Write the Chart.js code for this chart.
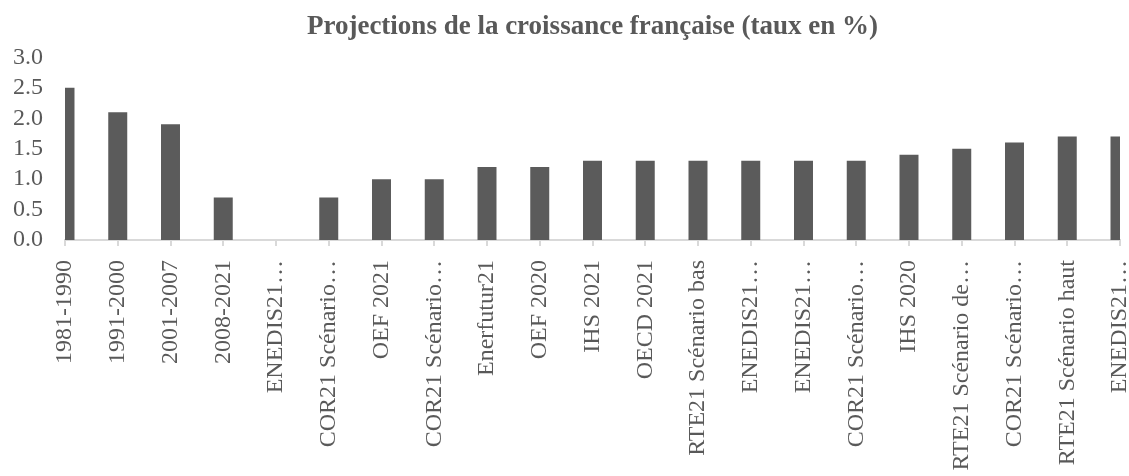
<!DOCTYPE html>
<html lang="fr">
  <head>
    <meta charset="UTF-8" />
    <title>Projections de la croissance française</title>
    <script src="https://cdn.jsdelivr.net/npm/chart.js"></script>
    <style>
      html,
      body {
        margin: 0;
        padding: 0;
        background: #fff;
      }
      .chart-box {
        width: 1129px;
        height: 476px;
      }
    </style>
  </head>
  <body>
    <div class="chart-box">
      <canvas id="growthChart"></canvas>
    </div>

    <script>
      // categories (truncated the same way as the source chart)
      const categories = [
        "1981-1990",
        "1991-2000",
        "2001-2007",
        "2008-2021",
        "ENEDIS21…",
        "COR21 Scénario…",
        "OEF 2021",
        "COR21 Scénario…",
        "Enerfutur21",
        "OEF 2020",
        "IHS 2021",
        "OECD 2021",
        "RTE21 Scénario bas",
        "ENEDIS21…",
        "ENEDIS21…",
        "COR21 Scénario…",
        "IHS 2020",
        "RTE21 Scénario de…",
        "COR21 Scénario…",
        "RTE21 Scénario haut",
        "ENEDIS21…",
      ];
      // growth rate, %
      const growthRates = [
        2.5, 2.1, 1.9, 0.7, 0, 0.7, 1.0, 1.0, 1.2, 1.2, 1.3, 1.3, 1.3, 1.3,
        1.3, 1.3, 1.4, 1.5, 1.6, 1.7, 1.7,
      ];
      const yTicks = [0, 0.5, 1, 1.5, 2, 2.5, 3];

      const textGrey = "#595959";
      const lineGrey = "#d9d9d9";
      const serif = "'Liberation Serif', 'DejaVu Serif', serif";

      const ctx = document.getElementById("growthChart").getContext("2d");
      const growthChart = new Chart(ctx, {
        type: "bar",
        data: {
          labels: categories,
          datasets: [
            {
              label: "Croissance",
              data: growthRates,
              backgroundColor: "#5b5b5b",
              borderWidth: 0,
              categoryPercentage: 1,
              barPercentage: 0.36,
            },
          ],
        },
        options: {
          responsive: true,
          maintainAspectRatio: false,
          animation: false,
          layout: {
            padding: { left: 0, right: 9, top: 0, bottom: 0 },
          },
          plugins: {
            legend: { display: false },
            tooltip: { enabled: false },
            title: {
              display: true,
              text: "Projections de la croissance française (taux en %)",
              color: textGrey,
              fullSize: false,
              font: { family: serif, size: 27, weight: "bold" },
              padding: { top: 11, bottom: 14 },
            },
          },
          scales: {
            x: {
              offset: false,
              grid: {
                display: true,
                offset: false,
                drawOnChartArea: false,
                drawTicks: true,
                tickLength: 6,
                color: lineGrey,
                lineWidth: 2,
              },
              border: { display: true, color: lineGrey, width: 2 },
              ticks: {
                autoSkip: false,
                maxRotation: 90,
                minRotation: 90,
                padding: 14,
                color: textGrey,
                font: { family: serif, size: 24 },
              },
              afterFit(scale) {
                scale.height = 236;
                // let the end bars sit on the plot edges like the source
                scale.paddingLeft = 0;
                scale.paddingRight = 0;
              },
            },
            y: {
              min: 0,
              max: 3,
              grid: { display: false, drawTicks: false },
              border: { display: false },
              afterBuildTicks(scale) {
                scale.ticks = yTicks.map((v) => ({ value: v }));
              },
              ticks: {
                autoSkip: false,
                padding: 22,
                color: textGrey,
                font: { family: serif, size: 24 },
                callback: (v) => Number(v).toFixed(1),
              },
              afterFit(scale) {
                scale.width = 65;
              },
            },
          },
        },
      });
    </script>
  </body>
</html>
